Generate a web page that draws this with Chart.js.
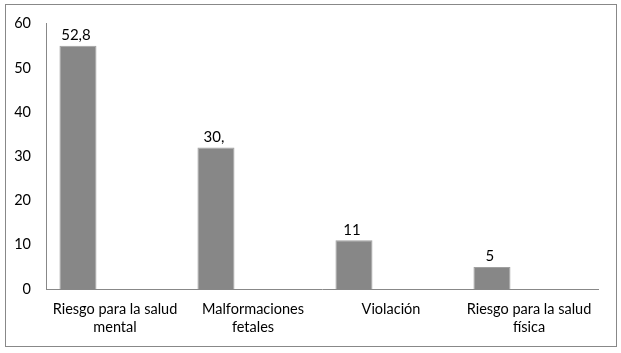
<!DOCTYPE html>
<html>
<head>
<meta charset="utf-8">
<script src="https://cdn.jsdelivr.net/npm/chart.js@4.4.0/dist/chart.umd.min.js"></script>
<style>
  html, body { margin: 0; padding: 0; background: #fff; }
  #wrap { position: relative; width: 621px; height: 353px; }
  #frame { position: absolute; left: 5px; top: 4px; width: 610px; height: 341px; border: 1px solid #888; }
  canvas { position: absolute; left: 0; top: 0; }
</style>
</head>
<body>
<div id="wrap">
  <div id="frame"></div>
  <canvas id="myChart" width="621" height="353"></canvas>
</div>
<script>
// categories and values
var categories = [["Riesgo para la salud", "mental"], ["Malformaciones", "fetales"], "Violación", ["Riesgo para la salud", "física"]]
var values = [55, 32, 11, 5]
var labelText = ["52,8", "30,", "11", "5"]
var yTicks = [0, 10, 20, 30, 40, 50, 60]

var FONT = "Lato, 'Open Sans', sans-serif"

// draws the text above each bar of the first series
const barLabels = {
  id: 'barLabels',
  afterDatasetsDraw(chart) {
    const ctx = chart.ctx
    const meta = chart.getDatasetMeta(0)
    ctx.save()
    ctx.font = '15px ' + FONT
    ctx.fillStyle = '#000'
    ctx.textAlign = 'center'
    ctx.textBaseline = 'bottom'
    meta.data.forEach(function(bar, i) {
      ctx.fillText(labelText[i], bar.x - 2, bar.y - 3)
    })
    ctx.restore()
  }
}

const data = {
  labels: categories,
  datasets: [
    {
      label: 'Serie 1',
      data: values,
      backgroundColor: '#878787',
      borderColor: '#a0a0a0',
      borderWidth: 1
    },
    // empty series, Excel left room for them
    { label: 'Serie 2', data: [null, null, null, null] },
    { label: 'Serie 3', data: [null, null, null, null] }
  ]
}

const config = {
  type: 'bar',
  data: data,
  options: {
    responsive: false,
    animation: false,
    layout: { padding: { left: 0, right: 23, top: 22, bottom: 0 } },
    datasets: { bar: { categoryPercentage: 0.805, barPercentage: 1.0 } },
    plugins: {
      legend: { display: false },
      tooltip: { enabled: false }
    },
    scales: {
      x: {
        grid: { display: false, drawTicks: false },
        border: { display: true, color: '#888', width: 1 },
        ticks: {
          color: '#000',
          font: { family: FONT, size: 14.5 },
          padding: 12,
          maxRotation: 0,
          autoSkip: false
        },
        afterFit: function(scale) { scale.height = 64 }
      },
      y: {
        min: 0,
        max: 60,
        grid: { display: false, drawTicks: false },
        border: { display: true, color: '#888', width: 1 },
        afterBuildTicks: function(scale) {
          scale.ticks = yTicks.map(function(v) { return { value: v } })
        },
        ticks: {
          color: '#000',
          font: { family: FONT, size: 14.5 },
          padding: 15
        },
        afterFit: function(scale) { scale.width = 46 }
      }
    }
  },
  plugins: [barLabels]
}

const myChart = new Chart(document.getElementById('myChart'), config)
</script>
</body>
</html>
